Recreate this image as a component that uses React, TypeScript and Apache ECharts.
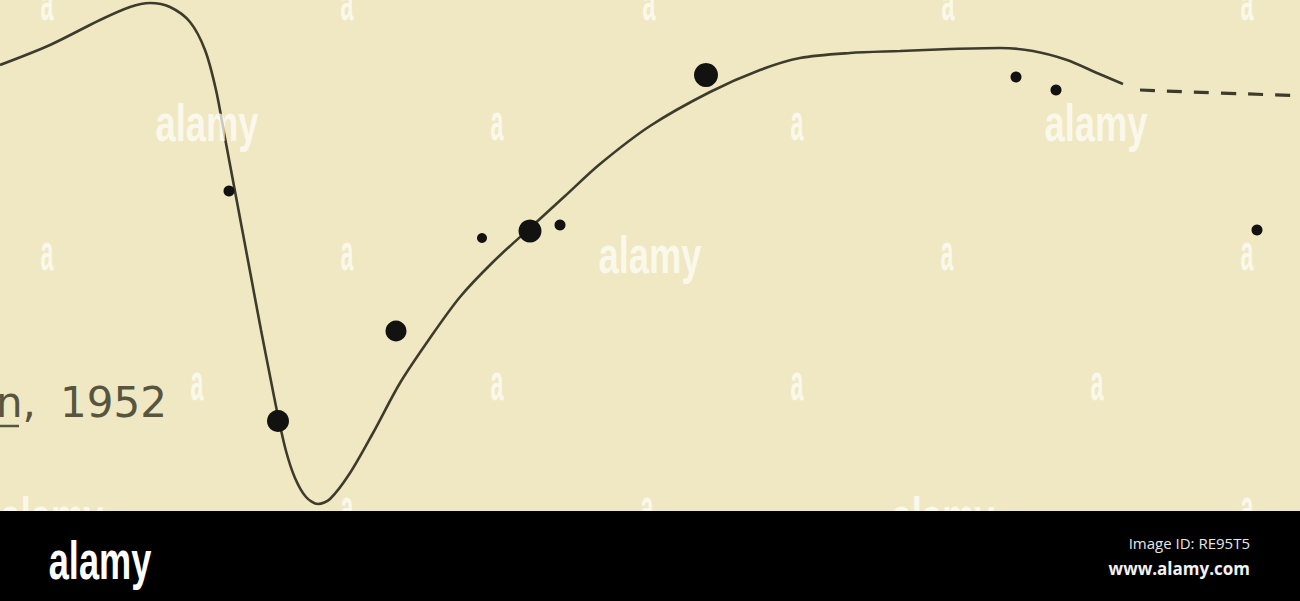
import React, { useEffect, useRef } from "react";
import * as echarts from "echarts";

// Fitted curve (x along plate, y measured downward from the top of the plate)
const curveSolid: [number, number][] = [
  [0, 65], [50, 45], [100, 20], [130, 7], [150, 3], [170, 7], [190, 22], [205, 50],
  [216, 90], [225, 138], [234, 186], [243, 234], [252, 282], [261, 330], [270, 376],
  [278, 416], [286, 451], [295, 478], [306, 497], [318, 504], [330, 499], [350, 473],
  [373, 433], [400, 383], [430, 338], [460, 297], [493, 262], [530, 228], [565, 196],
  [600, 164], [650, 126], [710, 92], [760, 70], [800, 58], [850, 53], [900, 51],
  [950, 49], [1000, 48], [1033, 51], [1067, 60], [1097, 73], [1123, 84],
];
const curveDashed: [number, number][] = [[1140, 90], [1220, 93], [1310, 96]];

// Observations: x, y, dot size
const obsX = [229, 278, 396, 482, 530, 560, 706, 1016, 1056, 1257];
const obsY = [191, 421, 331, 238, 231, 225, 75, 77, 90, 230];
const obsSize = [11, 22, 21, 10, 23, 11, 24, 11, 11, 11];

const labelName = "n,";
const labelYear = "1952";
const bannerId = "Image ID: RE95T5";
const bannerUrl = "www.alamy.com";

const wmBig: [number, number][] = [[207, 123], [650, 255], [1096, 123], [52, 516], [943, 516]];
const wmSmall: [number, number][] = [
  [47, 2], [347, 2], [649, 2], [948, 2], [1247, 2],
  [497, 122], [797, 122],
  [47, 252], [347, 252], [947, 252], [1247, 252],
  [197, 382], [497, 382], [797, 382], [1097, 382],
  [347, 507], [647, 507], [1247, 507],
];

export default function App() {
  const ref = useRef<HTMLDivElement>(null);
  useEffect(() => {
    document.body.style.margin = "0";
    const chart = echarts.init(ref.current!, null, { renderer: "svg" });
    const wmFont = "bold 52px 'Liberation Sans', Arial, sans-serif";
    const wmFill = "rgba(255,255,250,0.72)";
    const graphics: any[] = [];
    wmBig.forEach(([x, y]) =>
      graphics.push({
        type: "text", x, y, scaleX: 0.7, z: 100,
        style: { text: "alamy", font: wmFont, fill: wmFill, textAlign: "center", textVerticalAlign: "middle" },
      })
    );
    wmSmall.forEach(([x, y]) =>
      graphics.push({
        type: "text", x, y, scaleX: 0.45, z: 100,
        style: { text: "a", font: wmFont, fill: wmFill, textAlign: "center", textVerticalAlign: "middle" },
      })
    );
    graphics.push(
      {
        type: "text", x: -4, y: 423, z: 50,
        style: { text: labelName, font: "42px 'DejaVu Sans', sans-serif", fill: "#57553f", textAlign: "left", textVerticalAlign: "bottom" },
      },
      {
        type: "text", x: 60, y: 423, z: 50,
        style: { text: labelYear, font: "42px 'DejaVu Sans', sans-serif", fill: "#57553f", textAlign: "left", textVerticalAlign: "bottom" },
      },
      { type: "line", z: 50, shape: { x1: 0, y1: 426, x2: 19, y2: 426 }, style: { stroke: "#57553f", lineWidth: 2.5 } },
      { type: "rect", z: 200, shape: { x: 0, y: 511, width: 1300, height: 90 }, style: { fill: "#000" } },
      {
        type: "text", x: 100, y: 560, scaleX: 0.67, z: 201,
        style: { text: "alamy", font: "bold 54px 'Liberation Sans', Arial, sans-serif", fill: "#fff", textAlign: "center", textVerticalAlign: "middle" },
      },
      {
        type: "text", x: 1250, y: 543, z: 201,
        style: { text: bannerId, font: "15px 'Open Sans', sans-serif", fill: "#e6e6e6", textAlign: "right", textVerticalAlign: "middle" },
      },
      {
        type: "text", x: 1250, y: 568, z: 201,
        style: { text: bannerUrl, font: "bold 17px 'Open Sans', sans-serif", fill: "#f2f2f2", textAlign: "right", textVerticalAlign: "middle" },
      }
    );

    chart.setOption({
      animation: false,
      backgroundColor: "#efe8c3",
      grid: { left: 0, right: 0, top: 0, height: 511 },
      xAxis: { type: "value", min: 0, max: 1300, show: false },
      yAxis: { type: "value", min: 0, max: 511, inverse: true, show: false },
      series: [
        {
          type: "line", data: curveSolid, smooth: 0.3, showSymbol: false, z: 2,
          lineStyle: { color: "#3d3c2c", width: 2.6 },
        },
        {
          type: "line", data: curveDashed, smooth: true, showSymbol: false, z: 2, clip: true,
          lineStyle: { color: "#3d3c2c", width: 3.2, type: [15, 12] },
        },
        {
          type: "scatter", z: 3,
          data: obsX.map((x, i) => [x, obsY[i], obsSize[i]]),
          symbolSize: (v: number[]) => v[2],
          itemStyle: { color: "#121210", opacity: 1 },
        },
      ],
      graphic: graphics,
    });
    return () => chart.dispose();
  }, []);
  return <div ref={ref} style={{ width: 1300, height: 601 }} />;
}
